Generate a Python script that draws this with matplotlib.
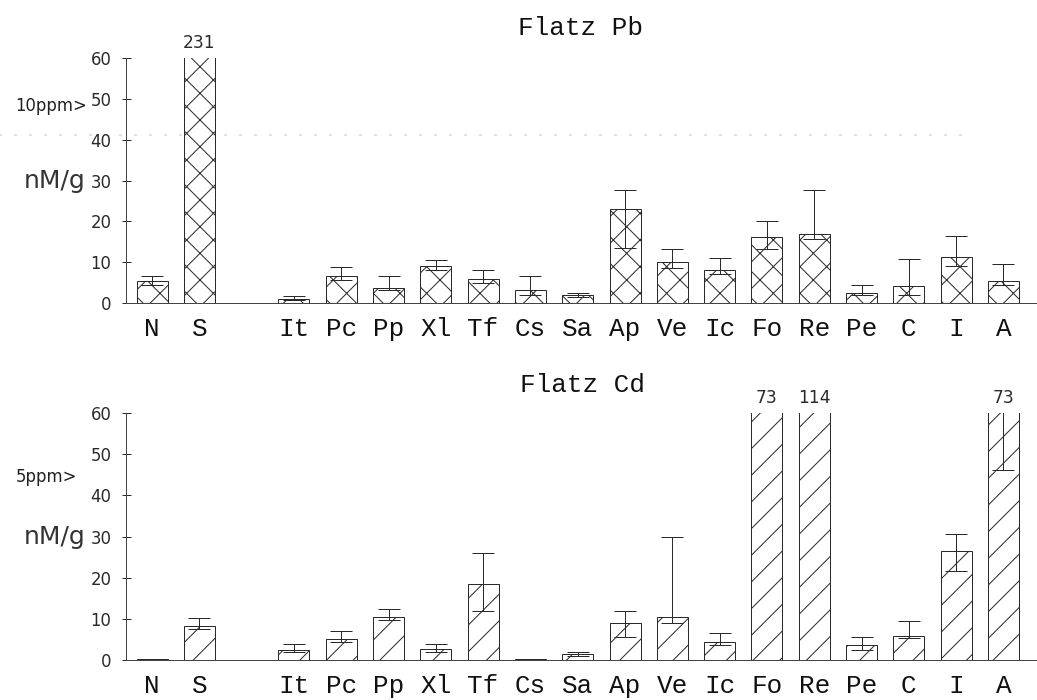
"""Flatz Pb / Cd concentrations per tissue, bar chart with error bars"""

import matplotlib
matplotlib.use('Agg')
import matplotlib.pyplot as plt
from matplotlib.transforms import blended_transform_factory

DPI = 160  # large dpi so the hatch spacing comes out coarse like the scan

categories = ['N', 'S', 'It', 'Pc', 'Pp', 'Xl', 'Tf', 'Cs', 'Sa', 'Ap',
              'Ve', 'Ic', 'Fo', 'Re', 'Pe', 'C', 'I', 'A']

pb_mean = [5.5, 231, 1.0, 6.6, 3.8, 9.0, 5.9, 3.1, 2.0, 23.1,
           10.1, 8.1, 16.1, 16.8, 2.4, 4.1, 11.2, 5.5]
pb_err_lo = [1.0, 0, 0.3, 0.9, 0.5, 1.0, 1.0, 1.1, 0.6, 9.7,
             1.5, 1.1, 2.9, 1.2, 0.5, 2.1, 2.2, 1.0]
pb_err_hi = [1.0, 0, 0.6, 2.2, 2.9, 1.5, 2.1, 3.4, 0.5, 4.6,
             3.2, 2.9, 4.1, 10.9, 1.9, 6.7, 5.1, 4.1]

cd_mean = [0.2, 8.3, 2.4, 5.1, 10.5, 2.8, 18.5, 0.2, 1.5, 8.9,
           10.5, 4.4, 73, 114, 3.6, 5.9, 26.6, 73]
cd_err_lo = [0, 0.8, 0.5, 0.8, 0.8, 0.9, 6.5, 0, 0.5, 3.4,
             1.6, 0.8, 0, 0, 1.2, 0.6, 4.9, 26.9]
cd_err_hi = [0, 1.8, 1.4, 1.9, 2.0, 1.0, 7.4, 0, 0.5, 2.9,
             19.3, 2.2, 0, 0, 1.9, 3.7, 4.0, 27.0]

y_ticks = [0, 10, 20, 30, 40, 50, 60]
Y_MAX = 60

panels = [
  dict(title='Flatz Pb', mean=pb_mean, lo=pb_err_lo, hi=pb_err_hi, hatch='xx',
       ppm_label='10ppm>', ppm_level=48.3, ppm_x=-0.043),
  dict(title='Flatz Cd', mean=cd_mean, lo=cd_err_lo, hi=cd_err_hi, hatch='//',
       ppm_label='5ppm>', ppm_level=44.5, ppm_x=-0.054),
]

INK = '#2a2a2a'
SERIF = ['Liberation Mono', 'DejaVu Sans Mono']
SANS = ['DejaVu Sans']


def pt(px):
  '''pixels -> points at the figure dpi'''
  return px * 72 / DPI


def x_positions(cats):
  '''N and S together, then a gap of one slot before the tissues'''
  return [i if i < 2 else i + 1 for i in range(len(cats))]


plt.rcParams['hatch.linewidth'] = pt(1.0)

fig = plt.figure(figsize=(1037 / DPI, 700 / DPI), dpi=DPI)
axes_boxes = [[0.1215, 0.5671, 0.8785, 0.35], [0.1215, 0.0571, 0.8785, 0.3529]]
title_pos = [(580 / 1037, 1 - 28 / 700), (583 / 1037, 1 - 385 / 700)]

xs = x_positions(categories)

for box, tpos, p in zip(axes_boxes, title_pos, panels):
  ax = fig.add_axes(box)
  ax.bar(xs, p['mean'], width=0.655, facecolor='white', edgecolor=INK,
         linewidth=pt(1.0), hatch=p['hatch'])
  # error bars only where there is a spread
  ex = [x for x, l, h in zip(xs, p['lo'], p['hi']) if l or h]
  ey = [m for m, l, h in zip(p['mean'], p['lo'], p['hi']) if l or h]
  elo = [l for l, h in zip(p['lo'], p['hi']) if l or h]
  ehi = [h for l, h in zip(p['lo'], p['hi']) if l or h]
  ax.errorbar(ex, ey, yerr=[elo, ehi], fmt='none', ecolor=INK,
              elinewidth=pt(1.0), capsize=pt(11), capthick=pt(1.0))

  # values of bars running off the top
  for x, m in zip(xs, p['mean']):
    if m > Y_MAX:
      ax.annotate(f'{m:g}', (x, Y_MAX), xytext=(0, pt(6)),
                  textcoords='offset points', ha='center', va='bottom',
                  fontsize=pt(17), family=SANS, color=INK,
                  annotation_clip=False)

  ax.set_xlim(-0.55, 18.71)
  ax.set_ylim(0, Y_MAX)
  ax.set_yticks(y_ticks)
  ax.set_yticklabels([str(t) for t in y_ticks], family=SANS, color='#333333')
  ax.tick_params(axis='y', direction='inout', length=pt(9), width=pt(1.0),
                 pad=pt(10), labelsize=pt(16.5), colors=INK)
  ax.set_xticks(xs)
  ax.set_xticklabels(categories, family=SERIF, color='#111111')
  ax.tick_params(axis='x', length=0, pad=pt(14), labelsize=pt(26))
  for side in ('top', 'right'):
    ax.spines[side].set_visible(False)
  for side in ('left', 'bottom'):
    ax.spines[side].set_linewidth(pt(1.0))
    ax.spines[side].set_color('#444444')

  trans = blended_transform_factory(ax.transAxes, ax.transData)
  ax.text(-0.045, 30, 'nM/g', transform=trans, ha='right', va='center',
          fontsize=pt(25), family=SANS, color='#333333')
  ax.text(p['ppm_x'], p['ppm_level'], p['ppm_label'], transform=trans,
          ha='right', va='center', fontsize=pt(16.5), family=SANS,
          color='#222222')

  fig.text(tpos[0], tpos[1], p['title'], ha='center', va='center',
           fontsize=pt(26), family=SERIF, color='#111111')

  if p['hatch'] == 'xx':
    # faint dashed scan line across the upper panel
    ax.axhline(41.2, xmin=-0.14, xmax=0.93, color='#d8d8d8', lw=pt(1.5),
               dashes=(2, 8), clip_on=False, zorder=0)

fig.savefig('out.png', dpi=DPI)
